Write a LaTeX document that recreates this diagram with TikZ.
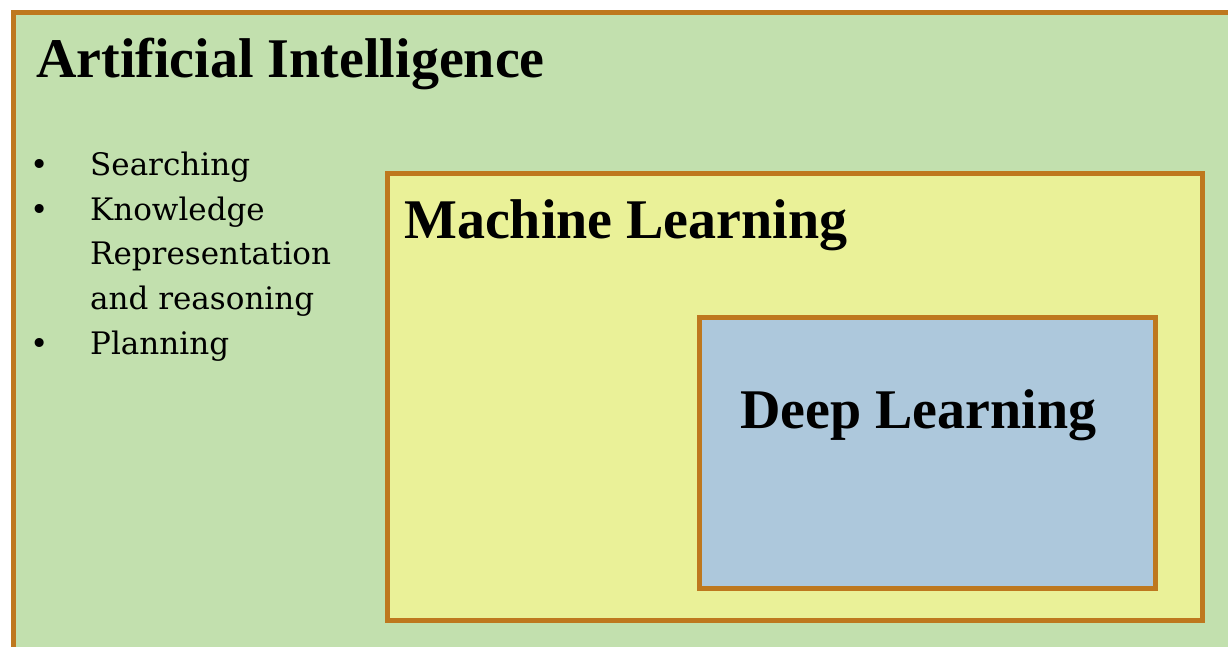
\documentclass[tikz,border=0pt]{standalone}
\usepackage{fontspec}
\setmainfont{Liberation Serif}
\newfontfamily\listfont{DejaVu Serif}
\definecolor{frame}{RGB}{190,120,30}
\definecolor{aigreen}{RGB}{194,224,174}
\definecolor{mlyellow}{RGB}{234,241,152}
\definecolor{dlblue}{RGB}{173,200,220}
\tikzset{
  box/.style={draw=frame, line width=5pt, inner sep=0pt, anchor=north west},
  heading/.style={anchor=base west, inner sep=0pt, font=\fontsize{56}{60}\selectfont\bfseries}
}
\begin{document}
\begin{tikzpicture}[x=1pt,y=-1pt]
  \useasboundingbox (0,0) rectangle (1228,647);
  \clip (0,0) rectangle (1228,647);
  % nested boxes
  \node[box, fill=aigreen, minimum width=1229pt, minimum height=650pt] (ai) at (11,10) {};
  \node[box, fill=mlyellow, minimum width=815pt, minimum height=447pt] (ml) at (385,171) {};
  \node[box, fill=dlblue, minimum width=456pt, minimum height=271pt] (dl) at (697,315) {};
  % titles
  \node[heading] (aititle) at (36,78) {Artificial Intelligence};
  \node[heading] (mltitle) at (404,238) {Machine Learning};
  \node[heading] (dltitle) at (740,428) {Deep Learning};
  % topics of AI
  \node[anchor=base west, inner sep=0pt,
        font=\listfont\fontsize{31}{44.5}\selectfont] (aitopics) at (30,176)
    {\begin{tabular}[t]{@{}p{60pt}@{}l@{}}
       \textbullet & Searching\\
       \textbullet & Knowledge\\
                   & Representation\\
                   & and reasoning\\
       \textbullet & Planning
     \end{tabular}};
\end{tikzpicture}
\end{document}
